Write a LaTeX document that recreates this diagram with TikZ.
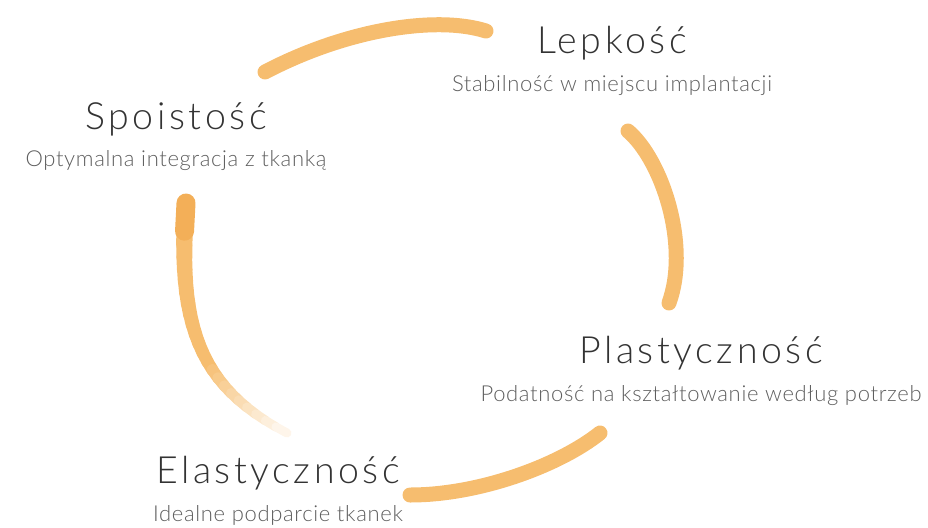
\documentclass[tikz,border=0pt]{standalone}
\usepackage{fontspec}
\setmainfont{Lato}[UprightFont={* Light}]
\newfontfamily\titlefont{Lato}[UprightFont={* Light},LetterSpace=9.5]
\newfontfamily\subfont{Lato}[UprightFont={* Light},LetterSpace=3]
\usetikzlibrary{positioning}
\definecolor{brush}{HTML}{F6BD6F}
\definecolor{brushdark}{HTML}{F3AF58}
\definecolor{titlegray}{HTML}{333333}
\definecolor{subgray}{HTML}{5E5E5E}

\begin{document}
\begin{tikzpicture}[x=1pt,y=-1pt,
    brush/.style={draw=brush,line width=15pt,line cap=round},
    title/.style={text=titlegray,font=\titlefont\fontsize{37.5}{37.5}\selectfont,anchor=base,inner sep=0pt},
    sub/.style={text=subgray,font=\subfont\fontsize{22}{22}\selectfont,inner sep=0pt}]
    \useasboundingbox (0,0) rectangle (928,527);

    % labels
    \node   [title]   (lepkosc)   at (612,53)   {Lepkość};
    \node   [title]   (spoistosc) at (176,129)  {Spoistość};
    \node   [title]   (plast)     at (701,363)  {Plastyczność};
    \node   [title]   (elast)     at (278,483)  {Elastyczność};

    \node   [sub,below=38.5pt of lepkosc.base,anchor=base]   (stab)   {Stabilność w miejscu implantacji};
    \node   [sub,below=37pt of spoistosc.base,anchor=base]   (integr) {Optymalna integracja z tkanką};
    \node   [sub,below=38.5pt of plast.base,anchor=base]     (podat)  {Podatność na kształtowanie według potrzeb};
    \node   [sub,below=38pt of elast.base,anchor=base]       (ideal)  {Idealne podparcie tkanek};

    % brush strokes
    \coordinate (t1) at (265,72);   \coordinate (t2) at (486,31);
    \coordinate (r1) at (628,131);  \coordinate (r2) at (669,303);
    \coordinate (b1) at (600,433);  \coordinate (b2) at (410,495);
    \coordinate (l1) at (186,203);  \coordinate (l2) at (287,433);

    \draw   [brush] (t1) .. controls (345,30) and (435,15) .. (t2);
    \draw   [brush] (r1) .. controls (662,160) and (690,245) .. (r2);
    \draw   [brush] (b1) .. controls (560,465) and (480,495) .. (b2);

    % left stroke: tapering, fading out at its tail
    \foreach \i in {0,...,24}
        \path (l1) .. controls (178,320) and (195,385) .. (l2) coordinate[pos=\i/24] (la\i);
    \foreach \i [count=\j from 1,
                 evaluate=\i as \k using {min(100,233-9.5*\i)},
                 evaluate=\i as \w using {max(8,17-0.35*\i)}] in {0,...,23}
        \draw [brush,draw=brush!\k!white,line width=\w pt] (la\i) -- (la\j);
    \draw   [brush,draw=brushdark,line width=19pt] (l1) -- (la2);
\end{tikzpicture}
\end{document}
